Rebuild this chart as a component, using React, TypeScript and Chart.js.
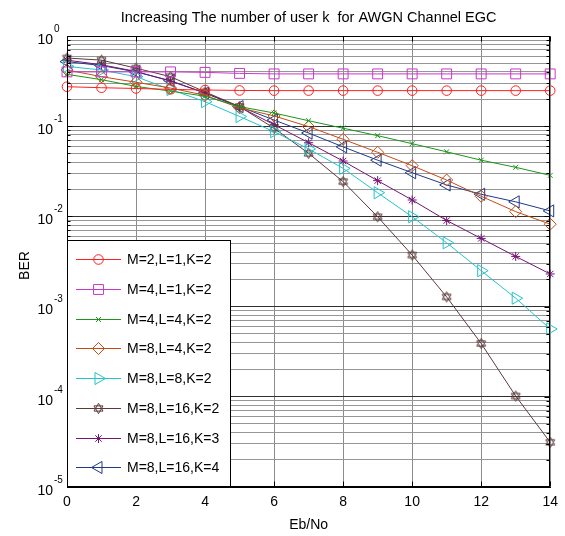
import React, { useEffect, useRef } from 'react';
import { Chart, registerables } from 'chart.js';
import { drawPoint } from 'chart.js/helpers';

Chart.register(...registerables);

// ---- data ----
const ebNo = [0, 1, 2, 3, 4, 5, 6, 7, 8, 9, 10, 11, 12, 13, 14];
const berM2L1K2 = [0.274, 0.267, 0.262, 0.256, 0.252, 0.249, 0.248, 0.248, 0.248, 0.248, 0.248, 0.248, 0.248, 0.248, 0.248];
const berM4L1K2 = [0.40, 0.40, 0.40, 0.40, 0.395, 0.385, 0.38, 0.38, 0.38, 0.38, 0.38, 0.38, 0.38, 0.38, 0.38];
const berM4L4K2 = [0.376, 0.328, 0.276, 0.245, 0.215, 0.165, 0.14, 0.115, 0.095, 0.0785, 0.064, 0.052, 0.042, 0.035, 0.0285];
const berM8L4K2 = [0.42, 0.354, 0.307, 0.265, 0.22, 0.16, 0.13, 0.099, 0.0716, 0.0514, 0.0365, 0.0253, 0.0167, 0.0113, 0.0082];
const berM8L8K2 = [0.46, 0.42, 0.354, 0.255, 0.187, 0.128, 0.087, 0.056, 0.0341, 0.0183, 0.0099, 0.0051, 0.0025, 0.00124, 0.000565];
const berM8L16K2 = [0.57, 0.54, 0.44, 0.354, 0.24, 0.165, 0.095, 0.05, 0.0243, 0.0099, 0.00373, 0.00128, 0.00039, 0.000102, 0.0000313];
const berM8L16K3 = [0.54, 0.48, 0.405, 0.315, 0.235, 0.163, 0.104, 0.0656, 0.0411, 0.0249, 0.0152, 0.009, 0.0057, 0.0036, 0.0023];
const berM8L16K4 = [0.52, 0.47, 0.40, 0.32, 0.232, 0.165, 0.117, 0.084, 0.059, 0.042, 0.0305, 0.0223, 0.0176, 0.0145, 0.0115];

const seriesLabels = [
  'M=2,L=1,K=2',
  'M=4,L=1,K=2',
  'M=4,L=4,K=2',
  'M=8,L=4,K=2',
  'M=8,L=8,K=2',
  'M=8,L=16,K=2',
  'M=8,L=16,K=3',
  'M=8,L=16,K=4',
];
const seriesValues = [berM2L1K2, berM4L1K2, berM4L4K2, berM8L4K2, berM8L8K2, berM8L16K2, berM8L16K3, berM8L16K4];
const seriesColors = ['#ff2020', '#c838c8', '#1a961a', '#c24c14', '#22c4c8', '#5a3a3a', '#741474', '#1f3888'];

const xTickValues = [0, 2, 4, 6, 8, 10, 12, 14];
const yDecades = [0, -1, -2, -3, -4, -5];

const titleText = 'Increasing The number of user k  for AWGN Channel EGC';
const xTitle = 'Eb/No';
const yTitle = 'BER';

const FONT = '"Liberation Sans", Arial, Helvetica, sans-serif';

function makeHexagram(color: string): HTMLCanvasElement {
  const c = document.createElement('canvas');
  c.width = 13;
  c.height = 13;
  const g = c.getContext('2d')!;
  g.strokeStyle = color;
  g.lineWidth = 1;
  const cx = 6.5, cy = 6.5, r = 5.2;
  for (const start of [-Math.PI / 2, Math.PI / 2]) {
    g.beginPath();
    for (let k = 0; k < 3; k++) {
      const a = start + (k * 2 * Math.PI) / 3;
      const px = cx + r * Math.cos(a);
      const py = cy + r * Math.sin(a);
      if (k === 0) g.moveTo(px, py);
      else g.lineTo(px, py);
    }
    g.closePath();
    g.stroke();
  }
  return c;
}

export default function App() {
  const canvasRef = useRef<HTMLCanvasElement | null>(null);

  useEffect(() => {
    const canvas = canvasRef.current;
    if (!canvas) return;
    const hex = makeHexagram(seriesColors[5]);

    const markers: any[] = [
      { pointStyle: 'circle', radius: 4.8, rotation: 0 },
      { pointStyle: 'rect', radius: 7, rotation: 0 },
      { pointStyle: 'crossRot', radius: 3.5, rotation: 0 },
      { pointStyle: 'rectRot', radius: 6, rotation: 0 },
      { pointStyle: 'triangle', radius: 7, rotation: 90 },
      { pointStyle: hex, radius: 6, rotation: 0 },
      { pointStyle: 'star', radius: 4.5, rotation: 0 },
      { pointStyle: 'triangle', radius: 7, rotation: -90 },
    ];

    const datasets = seriesLabels.map((label, i) => ({
      label,
      data: ebNo.map((x, j) => ({ x, y: seriesValues[i][j] })),
      borderColor: seriesColors[i],
      backgroundColor: 'rgba(0,0,0,0)',
      borderWidth: 1,
      pointStyle: markers[i].pointStyle,
      pointRadius: markers[i].radius,
      pointRotation: markers[i].rotation,
      pointBorderColor: seriesColors[i],
      pointBackgroundColor: 'rgba(0,0,0,0)',
      pointBorderWidth: 1,
      tension: 0,
      clip: false as any,
    }));

    const isPow10 = (v: number) => Math.abs(Math.log10(v) - Math.round(Math.log10(v))) < 1e-9;

    const decorPlugin = {
      id: 'decor',
      afterDraw(chart: any) {
        const ctx = chart.ctx as CanvasRenderingContext2D;
        const a = chart.chartArea;
        const xs = chart.scales.x;
        const ys = chart.scales.y;
        const L = Math.round(a.left) + 0.5;
        const R = Math.round(a.right) - 0.5;
        const T = Math.round(a.top) + 0.5;
        const B = Math.round(a.bottom) - 0.5;
        ctx.save();
        // inner ticks
        ctx.strokeStyle = '#000';
        ctx.lineWidth = 1;
        ctx.beginPath();
        for (const v of xTickValues) {
          const px = Math.round(xs.getPixelForValue(v)) + 0.5;
          ctx.moveTo(px, B);
          ctx.lineTo(px, B - 5);
          ctx.moveTo(px, T);
          ctx.lineTo(px, T + 5);
        }
        for (let e = -5; e <= 0; e++) {
          for (let m = 1; m <= 9; m++) {
            const v = m * Math.pow(10, e);
            if (v > 1 + 1e-12) continue;
            const py = Math.round(ys.getPixelForValue(v)) + 0.5;
            const len = m === 1 ? 5 : 3;
            ctx.moveTo(L, py);
            ctx.lineTo(L + len, py);
            ctx.moveTo(R, py);
            ctx.lineTo(R - len, py);
          }
        }
        ctx.stroke();

        // legend box
        const lx0 = 67.5, ly0 = 240.5, lx1 = 230.5, ly1 = B;
        ctx.fillStyle = '#fff';
        ctx.fillRect(lx0, ly0, lx1 - lx0, ly1 - ly0);
        ctx.strokeStyle = '#000';
        ctx.lineWidth = 1;
        ctx.strokeRect(lx0, ly0, lx1 - lx0, ly1 - ly0);
        ctx.font = `14px ${FONT}`;
        ctx.textBaseline = 'middle';
        ctx.textAlign = 'left';
        chart.data.datasets.forEach((ds: any, i: number) => {
          const ry = Math.round(259.3 + i * 29.7) + 0.5;
          ctx.strokeStyle = ds.borderColor;
          ctx.lineWidth = 1;
          ctx.beginPath();
          ctx.moveTo(76, ry);
          ctx.lineTo(121, ry);
          ctx.stroke();
          ctx.fillStyle = 'rgba(0,0,0,0)';
          ctx.strokeStyle = ds.pointBorderColor;
          drawPoint(ctx, {
            pointStyle: ds.pointStyle,
            rotation: ds.pointRotation,
            radius: ds.pointRadius,
            borderWidth: 1,
          } as any, 98.5, ry);
          ctx.fillStyle = '#000';
          ctx.fillText(ds.label, 127, ry + 0.5);
        });

        // plot box
        ctx.strokeStyle = '#000';
        ctx.lineWidth = 1;
        ctx.strokeRect(L, T, R - L, B - T);

        // y tick labels (10^k)
        ctx.fillStyle = '#000';
        for (const k of yDecades) {
          const py = ys.getPixelForValue(Math.pow(10, k));
          ctx.font = `14px ${FONT}`;
          ctx.textAlign = 'right';
          ctx.textBaseline = 'middle';
          ctx.fillText('10', 53, py + 4);
          ctx.font = `10px ${FONT}`;
          ctx.textAlign = 'left';
          ctx.fillText(String(k), 54, py - 7);
        }

        // title
        ctx.font = `14.5px ${FONT}`;
        ctx.textAlign = 'center';
        ctx.textBaseline = 'middle';
        ctx.fillText(titleText, (a.left + a.right) / 2, 18);

        // x title
        ctx.font = `14px ${FONT}`;
        ctx.fillText(xTitle, (a.left + a.right) / 2, 525);

        // y title
        ctx.translate(25, (a.top + a.bottom) / 2 + 4);
        ctx.rotate(-Math.PI / 2);
        ctx.fillText(yTitle, 0, 0);
        ctx.restore();
      },
    };

    const chart = new Chart(canvas, {
      type: 'line',
      data: { datasets: datasets as any },
      options: {
        responsive: false,
        animation: false,
        devicePixelRatio: 1,
        layout: { padding: { left: 0, right: 14, top: 36, bottom: 0 } },
        plugins: {
          legend: { display: false },
          title: { display: false },
          tooltip: { enabled: false },
        },
        scales: {
          x: {
            type: 'linear',
            min: 0,
            max: 14,
            afterBuildTicks: (s: any) => {
              s.ticks = xTickValues.map((v) => ({ value: v }));
            },
            afterFit: (s: any) => {
              s.height = 49;
            },
            ticks: {
              color: '#000',
              font: { family: FONT, size: 14 },
              padding: 7,
              maxRotation: 0,
              autoSkip: false,
            },
            grid: { color: '#8c8c8c', lineWidth: 1, drawTicks: false },
            border: { display: true, color: '#000' },
          },
          y: {
            type: 'logarithmic',
            min: 1e-5,
            max: 1,
            afterBuildTicks: (s: any) => {
              const t: any[] = [];
              for (let e = -5; e <= 0; e++) {
                for (let m = 1; m <= 9; m++) {
                  const v = m * Math.pow(10, e);
                  if (v > 1 + 1e-12) continue;
                  t.push({ value: v, major: m === 1 });
                }
              }
              s.ticks = t;
            },
            afterFit: (s: any) => {
              s.width = 67;
            },
            ticks: { display: false },
            grid: {
              color: (c: any) => (c.tick && isPow10(c.tick.value) ? '#303030' : '#969696'),
              lineWidth: 1,
              drawTicks: false,
            },
            border: { display: true, color: '#000' },
          },
        },
      },
      plugins: [decorPlugin],
    });

    return () => chart.destroy();
  }, []);

  return (
    <div style={{ position: 'fixed', left: 0, top: 0, width: 565, height: 536, background: '#fff' }}>
      <canvas ref={canvasRef} width={565} height={536} style={{ display: 'block', width: 565, height: 536 }} />
    </div>
  );
}
